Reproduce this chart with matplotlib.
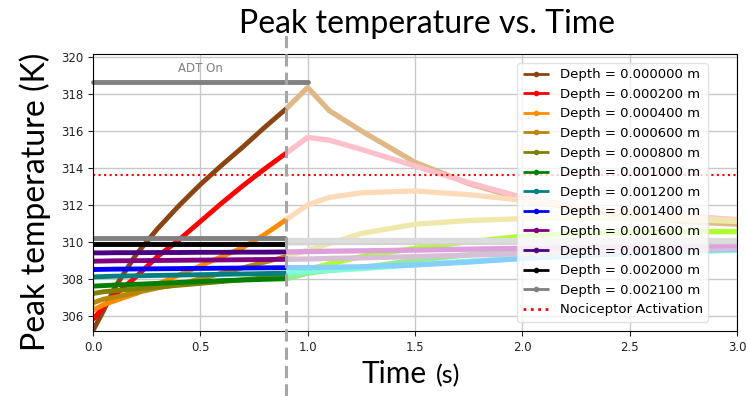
import matplotlib
matplotlib.use("Agg")
import matplotlib.pyplot as plt
from matplotlib.lines import Line2D

# time samples: heating phase (ADT on) and after
t_on = [0.0, 0.05, 0.1, 0.2, 0.3, 0.4, 0.5, 0.6, 0.7, 0.8, 0.9]
t_off = [0.9, 1.0, 1.1, 1.25, 1.5, 1.75, 2.0, 2.25, 2.5, 2.75, 3.0]

depths = [0.0, 0.0002, 0.0004, 0.0006, 0.0008, 0.0010,
          0.0012, 0.0014, 0.0016, 0.0018, 0.0020, 0.0021]
dark_colors = ["saddlebrown", "red", "darkorange", "darkgoldenrod", "olive", "green",
               "teal", "blue", "purple", "indigo", "black", "gray"]
light_colors = ["burlywood", "pink", "peachpuff", "palegoldenrod", "greenyellow", "lightgreen",
                "aquamarine", "lightskyblue", "thistle", "plum", "lightgray", "gainsboro"]

d00_on = [305.2, 306.3, 307.5, 309.3, 310.7, 311.95, 313.1, 314.15, 315.15, 316.2, 317.2]
d00_off = [317.2, 318.35, 317.1, 316.0, 314.3, 313.15, 312.3, 311.8, 311.4, 311.1, 310.95]
d02_on = [305.8, 306.5, 307.1, 308.1, 309.2, 310.1, 311.1, 312.1, 313.05, 313.95, 314.8]
d02_off = [314.8, 315.65, 315.5, 315.0, 314.1, 313.2, 312.4, 311.9, 311.6, 311.4, 311.2]
d04_on = [306.3, 306.6, 306.8, 307.2, 307.7, 308.2, 308.7, 309.2, 309.7, 310.4, 311.2]
d04_off = [311.2, 312.0, 312.4, 312.65, 312.75, 312.55, 312.25, 311.9, 311.6, 311.35, 311.15]
d06_on = [306.7, 306.9, 307.0, 307.25, 307.5, 307.7, 308.0, 308.3, 308.6, 308.9, 309.2]
d06_off = [309.2, 309.55, 309.9, 310.45, 310.95, 311.15, 311.25, 311.3, 311.25, 311.2, 311.1]
d08_on = [307.2, 307.3, 307.35, 307.45, 307.55, 307.65, 307.75, 307.85, 307.95, 308.05, 308.15]
d08_off = [308.15, 308.5, 308.8, 309.2, 309.65, 310.0, 310.3, 310.45, 310.5, 310.55, 310.55]
d10_on = [307.6, 307.63, 307.66, 307.7, 307.75, 307.8, 307.85, 307.9, 307.93, 307.97, 308.0]
d10_off = [308.0, 308.3, 308.45, 308.6, 309.0, 309.3, 309.55, 309.65, 309.8, 309.85, 309.9]
d12_on = [308.1, 308.12, 308.14, 308.16, 308.18, 308.2, 308.22, 308.24, 308.26, 308.28, 308.3]
d12_off = [308.3, 308.4, 308.45, 308.55, 308.75, 308.95, 309.1, 309.25, 309.35, 309.45, 309.55]
d14_on = [308.5, 308.51, 308.52, 308.53, 308.54, 308.55, 308.56, 308.57, 308.58, 308.59, 308.6]
d14_off = [308.6, 308.6, 308.62, 308.65, 308.75, 308.9, 309.1, 309.25, 309.4, 309.5, 309.6]
d16_on = [308.95, 308.96, 308.97, 308.98, 308.99, 309.0, 309.01, 309.02, 309.03, 309.04, 309.05]
d16_off = [309.05, 309.07, 309.1, 309.13, 309.2, 309.28, 309.35, 309.42, 309.5, 309.58, 309.65]
d18_on = [309.4, 309.4, 309.41, 309.41, 309.42, 309.42, 309.43, 309.43, 309.44, 309.44, 309.45]
d18_off = [309.45, 309.47, 309.49, 309.51, 309.55, 309.6, 309.65, 309.69, 309.72, 309.76, 309.8]
d20_on = [309.9, 309.9, 309.9, 309.9, 309.9, 309.9, 309.9, 309.9, 309.9, 309.9, 309.9]
d20_off = [309.95, 309.95, 309.96, 309.96, 309.97, 309.97, 309.98, 309.98, 309.99, 309.99, 310.0]
d21_on = [310.2, 310.2, 310.2, 310.2, 310.2, 310.2, 310.2, 310.2, 310.2, 310.2, 310.2]
d21_off = [310.1, 310.1, 310.1, 310.1, 310.1, 310.1, 310.1, 310.1, 310.1, 310.1, 310.1]

on_series = [d00_on, d02_on, d04_on, d06_on, d08_on, d10_on,
             d12_on, d14_on, d16_on, d18_on, d20_on, d21_on]
off_series = [d00_off, d02_off, d04_off, d06_off, d08_off, d10_off,
              d12_off, d14_off, d16_off, d18_off, d20_off, d21_off]

noci_temp = 313.6
adt_level = 318.67
adt_span = [0.0, 1.0]
t_cut = 0.9

fig = plt.figure(figsize=(7.46, 3.96), dpi=100)
ax = fig.add_axes([0.1247, 0.164, 0.8633, 0.6996])

for d, c, lc, on, off in zip(depths, dark_colors, light_colors, on_series, off_series):
    ax.plot(t_on, on, "-", marker=".", ms=2, lw=3.5, color=c,
            label=f"Depth = {d:.6f} m", solid_capstyle="butt")
    ax.plot(t_off, off, "-", lw=3.8, color=lc, solid_capstyle="butt")

ax.axhline(noci_temp, color="red", ls=":", lw=1.5, label="Nociceptor Activation")

# ADT on indicator bar
ax.plot(adt_span, [adt_level, adt_level], color="gray", lw=3.5,
        solid_capstyle="round", clip_on=False)
ax.text(0.5, adt_level + 0.35, "ADT On", color="gray", fontsize=8.5,
        ha="center", va="bottom")

ax.set_xlim(0, 3.0)
ax.set_ylim(305.17, 320.16)
ax.set_xticks([0.0, 0.5, 1.0, 1.5, 2.0, 2.5, 3.0])
ax.set_yticks(range(306, 321, 2))
ax.tick_params(labelsize=8.5, colors="#222222")
ax.grid(True, color="#c8c8c8", lw=1)
ax.set_axisbelow(True)

leg = ax.legend(loc="upper right", bbox_to_anchor=(0.955, 0.9675),
                borderaxespad=0, fontsize=9.5, labelspacing=0.5,
                handlelength=2.0, framealpha=0.8, edgecolor="#dddddd")
for h in leg.get_lines():
    h.set_linewidth(2)
    h.set_markersize(6)

# dashed marker at end of heating, drawn across the whole figure
x_fig = 0.1247 + 0.8633 * t_cut / 3.0
fig.add_artist(Line2D([x_fig, x_fig], [0.0, 0.92], color="#a6a6a6", lw=2.2,
                      ls=(0, (4, 2)), zorder=10))

fig.text(0.572, 0.94, "Peak temperature vs. Time", fontsize=23,
         family="Lato", ha="center", va="center")
fig.text(0.047, 0.49, "Peak temperature (K)", fontsize=23, family="Lato",
         rotation=90, ha="center", va="center")
fig.text(0.5725, 0.033, "Time", fontsize=21.5, family="Lato", ha="right", va="baseline")
fig.text(0.584, 0.033, "(s)", fontsize=18, family="Lato", ha="left", va="baseline")

fig.savefig("out.png", dpi=100)
